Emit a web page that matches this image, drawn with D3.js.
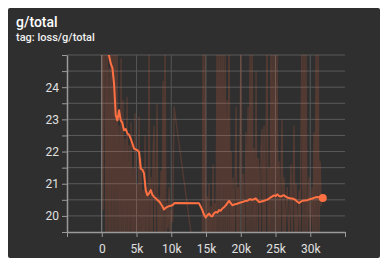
<!DOCTYPE html>
<html>
<head>
<meta charset="utf-8">
<script src="https://cdn.jsdelivr.net/npm/d3@7"></script>
<style>
  html, body { margin: 0; padding: 0; background: #ffffff; }
  #chart { width: 388px; height: 267px; }
  text { font-family: Roboto, "Noto Sans", sans-serif; }
</style>
</head>
<body>
<div id="chart"></div>
<script>
const title = "g/total";
const subtitle = "tag: loss/g/total";

const xTicks = [-5000, 0, 5000, 10000, 15000, 20000, 25000, 30000, 35000];
const xTickLabels = ["", "0", "5k", "10k", "15k", "20k", "25k", "30k", ""];
const yTicks = [19.5, 20, 20.5, 21, 21.5, 22, 22.5, 23, 23.5, 24, 24.5, 25];
const yTickLabels = ["", "20", "", "21", "", "22", "", "23", "", "24", "", ""];

// raw values (very noisy, mostly clipped by the view)
const rawSteps = [
  0, 190, 330, 480, 620, 760, 900, 1050, 1190, 1340, 1490, 1630, 1770, 1910, 2050,
  2200, 2340, 2490, 2640, 2780, 2920, 3070, 3210, 3360, 3500, 3640, 3790, 3930, 4070,
  4220, 4360, 4500, 4650, 4790, 4940, 5080, 5230, 5370, 5510, 5660, 5800, 5950, 6090,
  6230, 6380, 6520, 6670, 6810, 6950, 7090, 7240, 7380, 7520, 7670, 7810, 7960, 8100,
  8250, 8390, 8540, 8680, 8820, 8960, 9110, 9250, 9400, 9540, 9690, 9830, 10000, 10200,
  10410, 14440, 14580, 14720, 14870, 15010, 15150, 15300, 15440, 15580, 15730, 15870,
  16020, 16160, 16300, 16450, 16590, 16730, 16880, 17030, 17170, 17310, 17460, 17600,
  17750, 17890, 18030, 18180, 18320, 18470, 18610, 18760, 18900, 19040, 19330, 19470,
  19620, 19760, 20040, 20190, 20330, 20480, 20760, 20900, 21050, 21190, 21340, 21480,
  21630, 21770, 21910, 22060, 22210, 22350, 22500, 22640, 22790, 22930, 23070, 23220,
  23360, 23500, 23790, 23930, 24070, 24220, 24360, 24500, 24650, 24790, 24940, 25090,
  25230, 25370, 25510, 25660, 25940, 26090, 26230, 26380, 26670, 26950, 27230, 27380,
  27670, 27810, 27960, 28100, 28390, 28540, 28820, 28960, 29110, 29250, 29400, 29540,
  29830, 29970, 30260, 30400, 30550, 30700, 30840, 30980, 31130, 31270, 31420, 31570, 31710
];
const rawValues = [
  26.8, 20.2, 27.5, 24.6, 18.5, 26.9, 19.0, 24.6, 18.2, 27.2, 18.8, 26.0, 19.1, 27.0, 18.6,
  26.5, 19.3, 22.8, 18.5, 24.9, 19.0, 23.6, 18.7, 22.4, 19.2, 23.7, 18.9, 22.2, 19.4,
  22.9, 18.8, 21.5, 19.0, 23.2, 18.6, 21.0, 19.3, 23.1, 18.9, 21.8, 19.2, 20.8, 18.7,
  22.5, 19.4, 20.9, 19.0, 25.8, 19.3, 21.2, 19.1, 22.0, 22.8, 18.8, 21.1, 23.5, 19.0,
  20.6, 19.3, 21.4, 18.9, 24.2, 19.2, 25.6, 19.0, 20.4, 19.6, 20.9, 19.3, 20.2, 19.8,
  23.4, 16.9, 25.6, 19.1, 25.4, 18.9, 20.6, 19.2, 21.0, 18.9, 20.3, 19.3,
  21.6, 19.0, 20.4, 19.4, 25.8, 18.8, 26.2, 19.0, 25.5, 18.7, 26.0, 19.2,
  25.3, 18.9, 23.6, 19.1, 26.4, 18.6, 22.0, 19.3, 21.2, 19.0, 23.4, 18.8,
  20.9, 19.3, 25.9, 19.0, 21.3, 18.9, 22.6, 19.2, 23.4, 19.0, 25.5, 18.7,
  26.1, 19.3, 22.1, 19.1, 24.5, 19.0, 21.8, 21.3, 18.9, 22.1, 22.7, 19.2,
  22.8, 18.8, 26.0, 19.4, 21.5, 18.9, 26.3, 19.1, 25.7, 18.7, 26.0, 19.2,
  25.4, 19.0, 21.7, 19.3, 23.0, 18.9, 21.2, 19.4, 20.9, 19.2, 21.6, 19.0,
  22.8, 19.3, 21.0, 19.1, 20.8, 19.4, 25.9, 18.9, 26.1, 19.1, 25.5, 19.2,
  21.2, 19.4, 20.9, 19.3, 22.6, 19.2, 25.8, 19.0, 26.0, 19.5, 21.7, 20.3, 20.6
];

// smoothed values
const smoothSteps = [
  0, 1300, 1530, 1770, 2010, 2250, 2490, 2730, 2950, 3200, 3450, 3690, 3930, 4170, 4410, 4650,
  5120, 5380, 5610, 5850, 6080, 6330, 6560, 6800, 7050, 7280, 7520, 7760, 8000, 8250, 8490,
  8720, 8960, 9200, 9440, 9800, 10160, 10500, 14000, 14480, 14700, 14960, 15200, 15440,
  15680, 15910, 16150, 16400, 16640, 16880, 17120, 17360, 17600, 17840, 18080, 18320,
  18560, 18790, 19150, 19510, 19870, 20230, 20590, 20950, 21310, 21670, 22160, 22640,
  23000, 23360, 23720, 24070, 24430, 24790, 25030, 25270, 25510, 25750, 26000, 26230,
  26470, 26710, 27070, 27430, 27670, 27910, 28150, 28390, 28630, 28870, 29220, 29580,
  29940, 30300, 30660, 31020, 31400, 31800
];
const smoothValues = [
  26.0, 24.73, 24.6, 24.12, 23.13, 22.97, 23.28, 22.97, 22.9, 22.66, 22.7, 22.56, 22.52, 22.4,
  22.25, 22.09, 22.04, 21.98, 21.47, 21.44, 21.32, 20.8, 20.64, 20.7, 20.8, 20.66, 20.59, 20.55,
  20.49, 20.45, 20.38, 20.3, 20.2, 20.25, 20.28, 20.31, 20.33, 20.4, 20.39, 20.18, 20.05,
  19.95, 20.02, 20.07, 20.0, 19.99, 20.08, 20.12, 20.1, 20.18, 20.16, 20.23, 20.27, 20.33,
  20.4, 20.47, 20.4, 20.33, 20.36, 20.38, 20.41, 20.43, 20.46, 20.47, 20.52, 20.5, 20.54,
  20.43, 20.45, 20.47, 20.5, 20.54, 20.59, 20.64, 20.62, 20.67, 20.62, 20.6, 20.63, 20.64,
  20.6, 20.57, 20.55, 20.54, 20.52, 20.49, 20.44, 20.4, 20.44, 20.47, 20.48, 20.49, 20.52,
  20.54, 20.57, 20.59, 20.57, 20.56
];

const width = 388;
const height = 267;
const card = { x: 8, y: 8, w: 372, h: 250 };
const margin = { top: 55, right: 43, bottom: 35, left: 67 };

const svg = d3.select("#chart")
  .append("svg")
  .attr("width", width)
  .attr("height", height);

svg.append("rect")
  .attr("x", card.x)
  .attr("y", card.y)
  .attr("width", card.w)
  .attr("height", card.h)
  .attr("rx", 2)
  .attr("fill", "#2f2f2f");

svg.append("text")
  .attr("x", 16)
  .attr("y", 27)
  .attr("fill", "#ffffff")
  .style("font-size", "14px")
  .style("font-weight", "500")
  .text(title);

svg.append("text")
  .attr("x", 16)
  .attr("y", 41)
  .attr("fill", "#f0f0f0")
  .style("font-size", "11px")
  .style("font-weight", "500")
  .text(subtitle);

const x = d3.scaleLinear()
  .domain([-5000, 35000])
  .range([margin.left, width - margin.right]);

const y = d3.scaleLinear()
  .domain([19.5, 25])
  .range([height - margin.bottom, margin.top]);

const plot = svg.append("g");

// grid
plot.selectAll(".hgrid")
  .data(yTicks.slice(1))
  .enter()
  .append("line")
  .attr("x1", x(-5000))
  .attr("x2", x(35000))
  .attr("y1", (d) => y(d))
  .attr("y2", (d) => y(d))
  .attr("stroke", "#5a5a5a")
  .attr("stroke-width", 1);

plot.selectAll(".vgrid")
  .data(xTicks.slice(1, -1))
  .enter()
  .append("line")
  .attr("x1", (d) => x(d))
  .attr("x2", (d) => x(d))
  .attr("y1", y(25))
  .attr("y2", y(19.5))
  .attr("stroke", (d) => (d === 0 ? "#8a8a8a" : "#555555"))
  .attr("stroke-width", 1);

svg.append("clipPath")
  .attr("id", "clip")
  .append("rect")
  .attr("x", x(-5000))
  .attr("y", y(25))
  .attr("width", x(35000) - x(-5000))
  .attr("height", y(19.5) - y(25));

const data = plot.append("g").attr("clip-path", "url(#clip)");

const rawLine = d3.line()
  .x((d, i) => x(rawSteps[i]))
  .y((d) => y(d));

data.append("path")
  .datum(rawValues)
  .attr("d", rawLine)
  .attr("fill", "none")
  .attr("stroke", "#ff7043")
  .attr("stroke-opacity", 0.17)
  .attr("stroke-width", 1.4);

const smoothLine = d3.line()
  .x((d, i) => x(smoothSteps[i]))
  .y((d) => y(d));

data.append("path")
  .datum(smoothValues)
  .attr("d", smoothLine)
  .attr("fill", "none")
  .attr("stroke", "#ff7043")
  .attr("stroke-width", 2)
  .attr("stroke-linejoin", "round");

const last = smoothValues.length - 1;
plot.append("circle")
  .attr("cx", x(smoothSteps[last]))
  .attr("cy", y(smoothValues[last]))
  .attr("r", 4)
  .attr("fill", "#ff7043");

// axes
const xAxis = d3.axisBottom(x)
  .tickValues(xTicks)
  .tickFormat((d, i) => xTickLabels[i])
  .tickSize(5)
  .tickSizeOuter(0);

const gx = svg.append("g")
  .attr("transform", `translate(0, ${height - margin.bottom})`)
  .call(xAxis);

const yAxis = d3.axisLeft(y)
  .tickValues(yTicks)
  .tickFormat((d, i) => yTickLabels[i])
  .tickSize(5)
  .tickSizeOuter(0);

const gy = svg.append("g")
  .attr("transform", `translate(${margin.left}, 0)`)
  .call(yAxis);

[gx, gy].forEach((g) => {
  g.select(".domain").attr("stroke", "#9a9a9a").attr("stroke-width", 1.5);
  g.selectAll(".tick line").attr("stroke", "#9a9a9a");
  g.selectAll(".tick text")
    .attr("fill", "#e0e0e0")
    .style("font-size", "12px")
    .style("font-family", "Roboto, sans-serif");
});

gx.selectAll(".tick text").attr("dy", "1.05em");
</script>
</body>
</html>
